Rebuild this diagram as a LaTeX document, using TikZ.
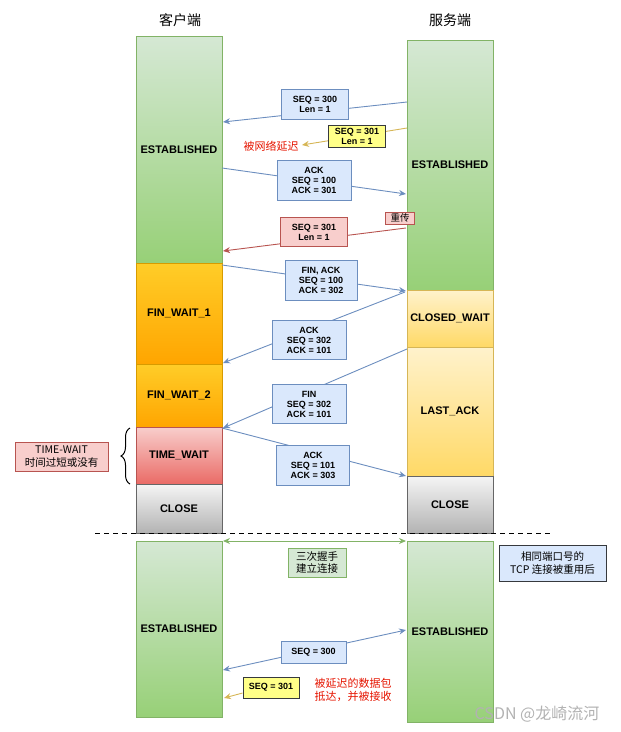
\documentclass[tikz,border=0pt]{standalone}
\usepackage{fontspec}
\setmainfont{Liberation Sans}
\newfontfamily\cjk{Noto Sans CJK SC}
\usetikzlibrary{arrows.meta,decorations.pathreplacing}
\definecolor{gTop}{HTML}{D5E8D4}\definecolor{gBot}{HTML}{97D077}\definecolor{gLine}{HTML}{82B366}
\definecolor{oTop}{HTML}{FFCD28}\definecolor{oBot}{HTML}{FFA500}\definecolor{oLine}{HTML}{D79B00}
\definecolor{yTop}{HTML}{FFF2CC}\definecolor{yBot}{HTML}{FFD966}\definecolor{yLine}{HTML}{D6B656}
\definecolor{rTop}{HTML}{F8CECC}\definecolor{rBot}{HTML}{EA6B66}\definecolor{rLine}{HTML}{B85450}
\definecolor{sTop}{HTML}{F5F5F5}\definecolor{sBot}{HTML}{B3B3B3}\definecolor{sLine}{HTML}{666666}
\definecolor{bFill}{HTML}{DAE8FC}\definecolor{bLine}{HTML}{6C8EBF}
\definecolor{yBox}{HTML}{FFFF88}\definecolor{kLine}{HTML}{36393D}
\definecolor{redTxt}{HTML}{E51400}
\begin{document}
\begin{tikzpicture}[x=1pt,y=-1pt,
  col/.style={draw, line width=1pt, minimum width=86pt, inner sep=0pt, font=\bfseries\fontsize{11}{13}\selectfont},
  green/.style={col, top color=gTop, bottom color=gBot, draw=gLine},
  orange/.style={col, top color=oTop, bottom color=oBot, draw=oLine},
  yel/.style={col, top color=yTop, bottom color=yBot, draw=yLine},
  redc/.style={col, top color=rTop, bottom color=rBot, draw=rLine},
  grey/.style={col, top color=sTop, bottom color=sBot, draw=sLine},
  msgbox/.style={draw=bLine, fill=bFill, line width=0.9pt, align=center, inner sep=1pt, font=\bfseries\fontsize{9}{10}\selectfont},
  ybox/.style={msgbox, fill=yBox, draw=kLine},
  rbox/.style={msgbox, fill=rTop, draw=rLine},
  arr/.style={draw=bLine, line width=0.9pt, -{Stealth[length=7pt,width=6pt]}},
  darr/.style={arr, {Stealth[length=7pt,width=6pt]}-{Stealth[length=7pt,width=6pt]}},
  yarr/.style={arr, draw=yLine},
  rarr/.style={arr, draw=rLine},
  garr/.style={darr, draw=gLine},
  title/.style={font=\cjk\fontsize{14}{16}\selectfont},
  note/.style={font=\cjk\fontsize{11}{13}\selectfont, align=center}
]
\useasboundingbox (0,0) rectangle (621,732);

% titles
\node[title] (tl) at (180,20) {客户端};
\node[title] (tr) at (450,20) {服务端};

% left column
\node[green,  minimum height=227pt] (le)  at (179,149.5) {ESTABLISHED};
\node[orange, minimum height=101pt] (lf1) at (179,313.5) {FIN\_WAIT\_1};
\node[orange, minimum height=63pt]  (lf2) at (179,395.5) {FIN\_WAIT\_2};
\node[redc,   minimum height=57pt]  (ltw) at (179,455.5) {TIME\_WAIT};
\node[grey,   minimum height=49pt]  (lcl) at (179,508.5) {CLOSE};
% right column
\node[green,  minimum height=250pt] (re)  at (450,165) {ESTABLISHED};
\node[yel,    minimum height=57pt]  (rcw) at (450,318.5) {CLOSED\_WAIT};
\node[yel,    minimum height=129pt] (rla) at (450,411.5) {LAST\_ACK};
\node[grey,   minimum height=57pt]  (rcl) at (450,504.5) {CLOSE};

% dashed separator
\coordinate (dl) at (95,533);
\coordinate (dr) at (552,533);
\draw[line width=0.9pt, dash pattern=on 5pt off 4pt] (dl) -- (dr);

% bottom columns
\node[green, minimum height=176pt] (ble) at (179,629) {ESTABLISHED};
\node[green, minimum height=181pt] (bre) at (450,631.5) {ESTABLISHED};

% message endpoints
\coordinate (m1s) at (407,102); \coordinate (m1e) at (223,122);
\coordinate (m2s) at (407,128); \coordinate (m2e) at (302,145);
\coordinate (m3s) at (222,168); \coordinate (m3e) at (406,194);
\coordinate (m4s) at (406,228); \coordinate (m4e) at (223,251);
\coordinate (m5s) at (222,265); \coordinate (m5e) at (406,291);
\coordinate (m6s) at (405,292); \coordinate (m6e) at (223,363);
\coordinate (m7s) at (407,349); \coordinate (m7e) at (223,428);
\coordinate (m8s) at (222,428); \coordinate (m8e) at (406,476);
\coordinate (g1) at (223,541);  \coordinate (g2) at (406,541);
\coordinate (m9s) at (223,670); \coordinate (m9e) at (406,630);
\coordinate (m10e) at (224,698);

\draw[arr]  (m1s) -- (m1e);
\draw[yarr] (m2s) -- (m2e);
\draw[arr]  (m3s) -- (m3e);
\draw[rarr] (m4s) -- (m4e);
\draw[arr]  (m5s) -- (m5e);
\draw[arr]  (m6s) -- (m6e);
\draw[arr]  (m7s) -- (m7e);
\draw[arr]  (m8s) -- (m8e);
\draw[garr] (g1) -- (g2);
\draw[darr] (m9s) -- (m9e);

% message boxes
\node[msgbox, minimum width=67pt, minimum height=30pt] (b1) at (315,104) {SEQ = 300\\Len = 1};
\node[ybox,   minimum width=57pt, minimum height=22pt, inner sep=0.5pt] (b2) at (357,136) {SEQ = 301\\Len = 1};
\node[msgbox, minimum width=74pt, minimum height=40pt] (b3) at (314,180) {ACK\\SEQ = 100\\ACK = 301};
\node[rbox,   minimum width=67pt, minimum height=29pt] (b4) at (314,232) {SEQ = 301\\Len = 1};
\node[msgbox, minimum width=72pt, minimum height=40pt] (b5) at (321,280) {FIN, ACK\\SEQ = 100\\ACK = 302};
\node[msgbox, minimum width=74pt, minimum height=39pt] (b6) at (309,340) {ACK\\SEQ = 302\\ACK = 101};
\node[msgbox, minimum width=74pt, minimum height=39pt] (b7) at (309,404) {FIN\\SEQ = 302\\ACK = 101};
\node[msgbox, minimum width=73pt, minimum height=40pt] (b8) at (313,465) {ACK\\SEQ = 101\\ACK = 303};

\node[note, text=redTxt] (delay) at (271,146) {被网络延迟};
\node[note, draw=rLine, fill=rTop, line width=0.6pt, inner sep=0.3pt, minimum width=29pt, minimum height=12pt, font=\cjk\fontsize{9.5}{10}\selectfont] (retx) at (400,218) {重传};

% TIME-WAIT note and brace
\node[note, draw=rLine, fill=rTop, line width=0.8pt, minimum width=93pt, minimum height=29pt, inner sep=0.5pt, font=\cjk\fontsize{10.5}{12.5}\selectfont] (tw) at (61.5,456.5) {TIME-WAIT\\时间过短或没有};
\coordinate (brb) at (130,484);
\coordinate (brt) at (130,428);
\draw[line width=1pt, decorate, decoration={brace, amplitude=9pt}] (brb) -- (brt);

% bottom part
\node[note, draw=gLine, fill=gTop, line width=0.8pt, minimum width=58pt, minimum height=29pt, inner sep=0.5pt, font=\cjk\fontsize{10.5}{12.5}\selectfont] (hs) at (317,562.5) {三次握手\\建立连接};
\node[note, draw=kLine, fill=bFill, line width=1pt, minimum width=107pt, minimum height=36pt, inner sep=0.5pt, font=\cjk\fontsize{10.5}{13}\selectfont] (reuse) at (552.5,563) {相同端口号的\\TCP 连接被重用后};
\node[msgbox, minimum width=65pt, minimum height=22pt] (b9) at (313.5,652) {SEQ = 300};
\node[ybox, minimum width=56pt, minimum height=21pt] (b10) at (271,687.5) {SEQ = 301};
\draw[yarr] (b10.west |- 0,693) -- (m10e);
\node[note, text=redTxt, font=\cjk\fontsize{11}{13}\selectfont, align=left] (late) at (353,690) {被延迟的数据包\\抵达，并被接收};

\node[font=\cjk\fontsize{16}{18}\selectfont, text=black!30] (wm) at (537,714) {CSDN @龙崎流河};
\end{tikzpicture}
\end{document}
